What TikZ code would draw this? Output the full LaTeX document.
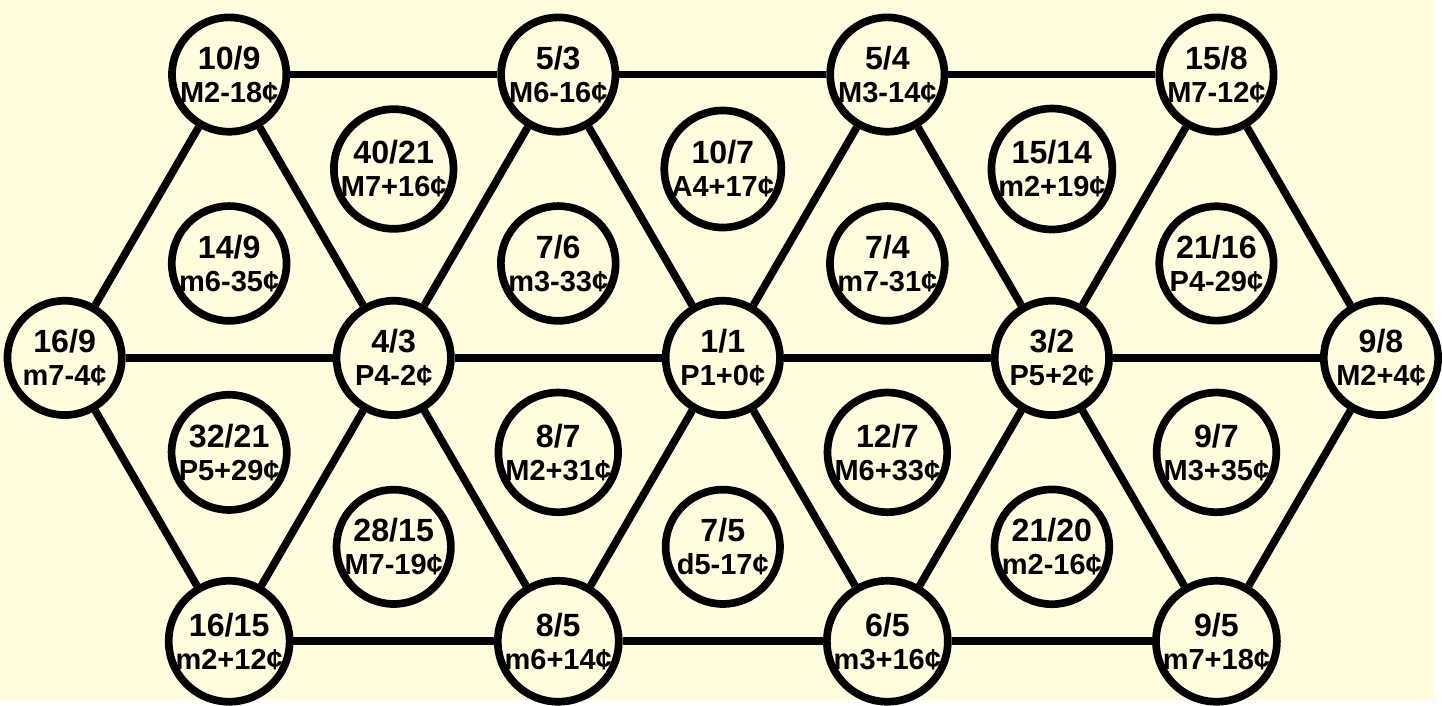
\documentclass[tikz,border=0pt]{standalone}
\usepackage{fontspec}
\setmainfont{Liberation Sans}
\definecolor{cream}{RGB}{255,253,221}
\usetikzlibrary{positioning}

\newcommand\ratio[2]{{\fontsize{9.2}{9.4}\selectfont #1}\\#2}

\begin{document}
\begin{tikzpicture}[font=\fontsize{8.3}{9.4}\selectfont\bfseries,
          every node/.style={align=center},
          tone/.style={circle, draw=black, line width=2.2pt, fill=cream,
                       minimum size=1.15cm, inner sep=0pt},
          link/.style={line width=2.2pt}]
          \fill[cream] (0,0) rectangle (14.42,7.04);
          % lattice nodes
          \def\dx{3.31}
          \foreach \k/\fr/\ct in {1/{10/9}/{M2-18¢}, 2/{5/3}/{M6-16¢},
                                  3/{5/4}/{M3-14¢}, 4/{15/8}/{M7-12¢}}{
            \node[tone] (t\k) at ({2.305+(\k-1)*\dx}, 6.29) {\ratio{\fr}{\ct}};
          }
          \foreach \k/\fr/\ct in {1/{16/9}/{m7-4¢}, 2/{4/3}/{P4-2¢},
                                  3/{1/1}/{P1+0¢}, 4/{3/2}/{P5+2¢}, 5/{9/8}/{M2+4¢}}{
            \node[tone] (m\k) at ({0.65+(\k-1)*\dx}, 3.44) {\ratio{\fr}{\ct}};
          }
          \foreach \k/\fr/\ct in {1/{16/15}/{m2+12¢}, 2/{8/5}/{m6+14¢},
                                  3/{6/5}/{m3+16¢}, 4/{9/5}/{m7+18¢}}{
            \node[tone] (b\k) at ({2.305+(\k-1)*\dx}, 0.59) {\ratio{\fr}{\ct}};
          }
          % triangle centres
          \foreach \k/\y/\fr/\ct in {1/4.39/{14/9}/{m6-35¢}, 2/5.34/{40/21}/{M7+16¢},
                                     3/4.39/{7/6}/{m3-33¢}, 4/5.34/{10/7}/{A4+17¢},
                                     5/4.39/{7/4}/{m7-31¢}, 6/5.34/{15/14}/{m2+19¢},
                                     7/4.39/{21/16}/{P4-29¢}}{
            \node[tone] (up\k) at ({2.305+(\k-1)*\dx/2}, \y) {\ratio{\fr}{\ct}};
          }
          \foreach \k/\y/\fr/\ct in {1/2.49/{32/21}/{P5+29¢}, 2/1.54/{28/15}/{M7-19¢},
                                     3/2.49/{8/7}/{M2+31¢}, 4/1.54/{7/5}/{d5-17¢},
                                     5/2.49/{12/7}/{M6+33¢}, 6/1.54/{21/20}/{m2-16¢},
                                     7/2.49/{9/7}/{M3+35¢}}{
            \node[tone] (lo\k) at ({2.305+(\k-1)*\dx/2}, \y) {\ratio{\fr}{\ct}};
          }
          % edges
          \foreach \a/\b in {t1/t2,t2/t3,t3/t4,m1/m2,m2/m3,m3/m4,m4/m5,
                             b1/b2,b2/b3,b3/b4,
                             t1/m1,t1/m2,t2/m2,t2/m3,t3/m3,t3/m4,t4/m4,t4/m5,
                             b1/m1,b1/m2,b2/m2,b2/m3,b3/m3,b3/m4,b4/m4,b4/m5}
            \draw[link] (\a) -- (\b);
        \end{tikzpicture}
\end{document}
